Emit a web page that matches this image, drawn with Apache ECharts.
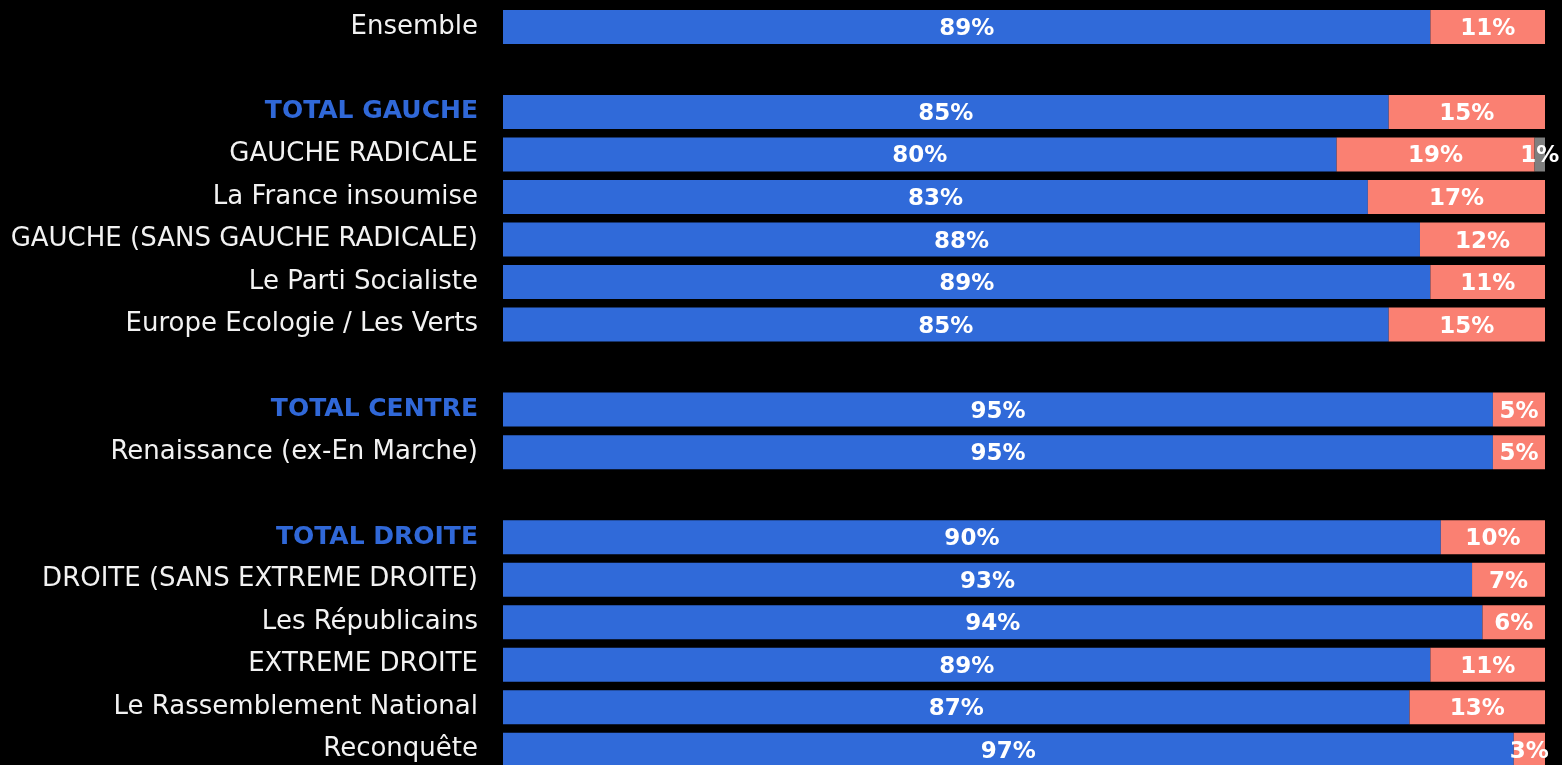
<!DOCTYPE html>
<html><head><meta charset="utf-8">
<script src="https://cdn.jsdelivr.net/npm/echarts@6/dist/echarts.min.js"></script>
<style>html,body{margin:0;padding:0;background:#000;overflow:hidden;}#c{width:1562px;height:771px;}</style>
</head><body><div id="c"></div>
<script>
const categories = ['Ensemble',' ','TOTAL GAUCHE','GAUCHE RADICALE','La France insoumise','GAUCHE (SANS GAUCHE RADICALE)','Le Parti Socialiste','Europe Ecologie / Les Verts','  ','TOTAL CENTRE','Renaissance (ex-En Marche)','   ','TOTAL DROITE','DROITE (SANS EXTREME DROITE)','Les Républicains','EXTREME DROITE','Le Rassemblement National','Reconquête'];
const totals = ['TOTAL GAUCHE','TOTAL CENTRE','TOTAL DROITE'];
const oui = [89,null,85,80,83,88,89,85,null,95,95,null,90,93,94,89,87,97];
const non = [11,null,15,19,17,12,11,15,null,5,5,null,10,7,6,11,13,3];
const nsp = [null,null,null,1,null,null,null,null,null,null,null,null,null,null,null,null,null,null];
const colors = ['#306AD9','#FA8072','#7F7F7F'];

const FONT = 'DejaVu Sans';
const lbl = {show:true, position:'inside', color:'#fff', fontFamily:FONT, fontWeight:'bold', fontSize:23, offset:[0,2], formatter:p=>p.value==null?'':p.value+'%'};
function s(name,data,color){return {name,type:'bar',stack:'a',data,barWidth:34,itemStyle:{color},label:lbl,silent:true};}
const chart = echarts.init(document.getElementById('c'));
chart.setOption({
  backgroundColor:'#000',
  animation:false,
  grid:{left:503,right:17,top:5.7,bottom:0,containLabel:false},
  xAxis:{type:'value',min:0,max:100,show:false},
  yAxis:{type:'category',inverse:true,data:categories,
    axisLine:{show:false},axisTick:{show:false},splitLine:{show:false},
    axisLabel:{margin:25,fontFamily:FONT,fontSize:26,color:'#f2f2f2',
      formatter:v=>totals.includes(v)?'{t|'+v+'}':v,
      rich:{t:{fontFamily:FONT,fontSize:25,fontWeight:'bold',color:'#3068D8'}}}},
  series:[s('Oui',oui,colors[0]),s('Non',non,colors[1]),s('NSP',nsp,colors[2])]
});
</script></body></html>
